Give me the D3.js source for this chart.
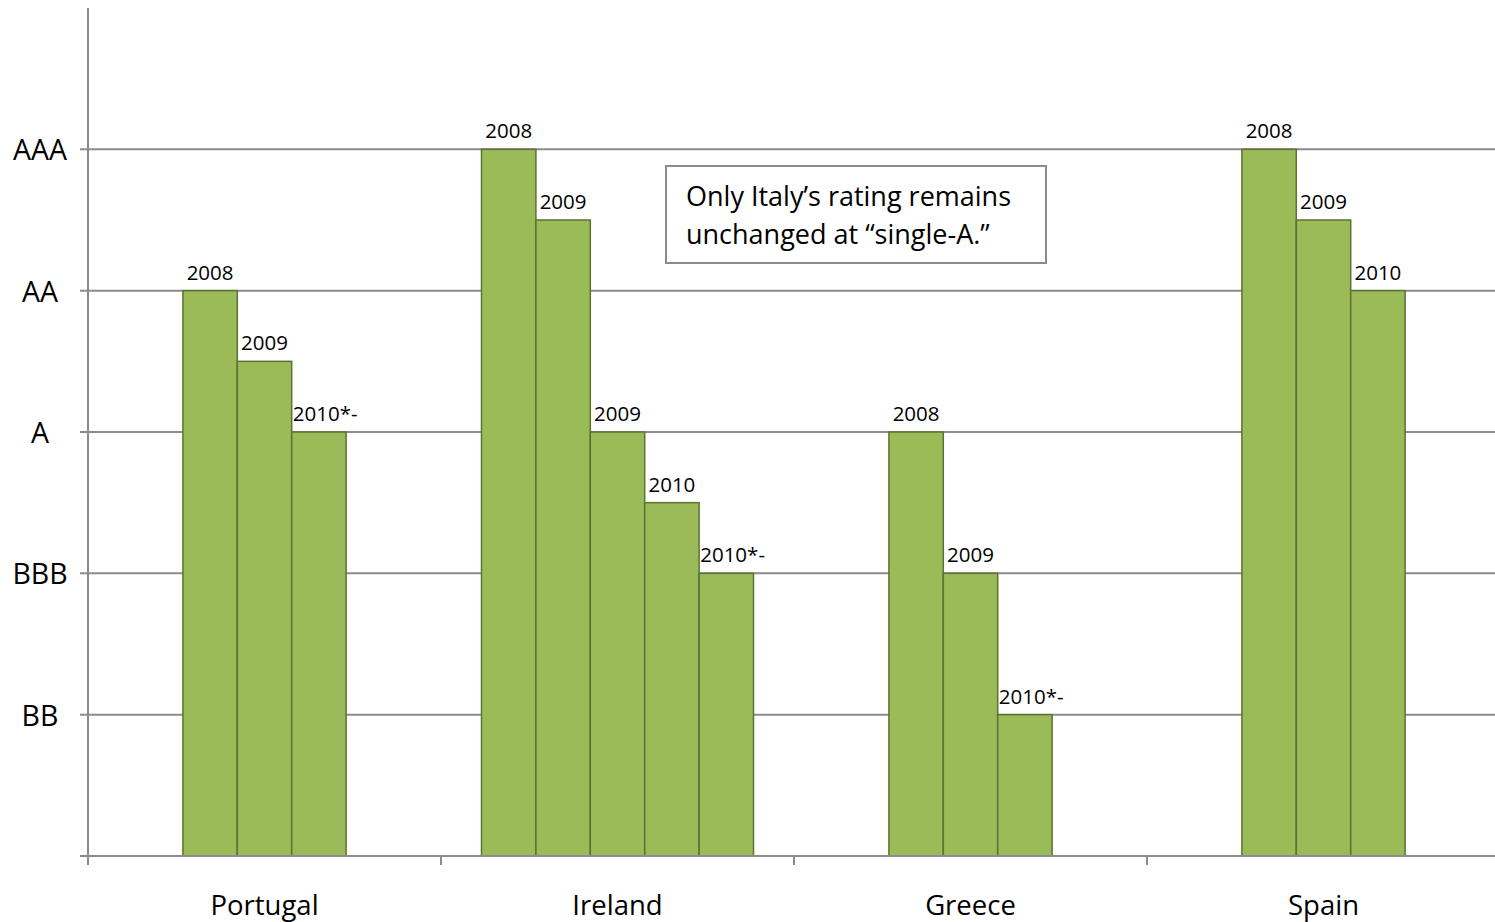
<!DOCTYPE html>
<html>
<head>
<meta charset="utf-8">
<script src="https://cdn.jsdelivr.net/npm/d3@7"></script>
<style>
  body { margin: 0; background: #fff; }
  svg { display: block; font-family: "Open Sans", sans-serif; }
</style>
</head>
<body>
<svg width="1495" height="922"></svg>
<script>
// data
var countries = ["Portugal", "Ireland", "Greece", "Spain"];
var ratings = ["BB", "BBB", "A", "AA", "AAA"]; // rating index 1..5
var portugalYears = ["2008", "2009", "2010*-"];
var portugalValues = [4, 3.5, 3];
var irelandYears = ["2008", "2009", "2009", "2010", "2010*-"];
var irelandValues = [5, 4.5, 3, 2.5, 2];
var greeceYears = ["2008", "2009", "2010*-"];
var greeceValues = [3, 2, 1];
var spainYears = ["2008", "2009", "2010"];
var spainValues = [5, 4.5, 4];
var note = ["Only Italy\u2019s rating remains", "unchanged at \u201csingle-A.\u201d"];

var groups = [
  { name: "Portugal", years: portugalYears, values: portugalValues },
  { name: "Ireland", years: irelandYears, values: irelandValues },
  { name: "Greece", years: greeceYears, values: greeceValues },
  { name: "Spain", years: spainYears, values: spainValues }
];

var svg = d3.select("svg");
var plotL = 88, plotR = 1495, plotT = 8, plotB = 856;
var barW = 54.4;
var gridColor = "#8c8c8c";

// the last category runs a little past the right edge of the picture
var x = d3.scaleBand().domain(countries).range([plotL, 1500]).padding(0);
var y = d3.scaleLinear().domain([0, 6]).range([plotB, plotT]);

// horizontal gridlines + y labels
var yTicks = d3.range(1, ratings.length + 1);
svg.append("g").selectAll("line")
  .data(yTicks).enter().append("line")
  .attr("x1", plotL - 8).attr("x2", plotR)
  .attr("y1", d => y(d)).attr("y2", d => y(d))
  .attr("stroke", gridColor).attr("stroke-width", 2);

svg.append("g").selectAll("text")
  .data(yTicks).enter().append("text")
  .attr("x", 40).attr("y", d => y(d) + 11)
  .attr("text-anchor", "middle")
  .attr("font-size", 28.5)
  .attr("fill", "#000")
  .text(d => ratings[d - 1]);

// bars
var bars = [];
groups.forEach(function (g) {
  var n = g.values.length;
  var cx = x(g.name) + x.bandwidth() / 2;
  g.values.forEach(function (v, i) {
    bars.push({ x: cx + (i - n / 2) * barW, v: v, label: g.years[i] });
  });
});

svg.append("g").selectAll("rect")
  .data(bars).enter().append("rect")
  .attr("x", d => d.x)
  .attr("y", d => y(d.v))
  .attr("width", barW)
  .attr("height", d => plotB - y(d.v))
  .attr("fill", "#9bbb59")
  .attr("stroke", "#5b7330")
  .attr("stroke-width", 1.5);

// bar labels: centred on the bar, a trailing "-" hangs to the right
var lbl = svg.append("g").selectAll("text")
  .data(bars).enter().append("text")
  .attr("y", d => y(d.v) - 11)
  .attr("font-size", 20.5)
  .attr("fill", "#000")
  .text(d => d.label.replace("-", ""));
lbl.each(function (d) {
  var w = this.getComputedTextLength();
  var dash = d.label.indexOf("-") >= 0;
  d3.select(this).attr("x", d.x + barW / 2 - w / 2 + (dash ? 3 : 0));
  if (dash) d3.select(this).append("tspan").text("-");
});

// axes
svg.append("line")
  .attr("x1", plotL).attr("x2", plotL).attr("y1", plotT).attr("y2", plotB + 9)
  .attr("stroke", gridColor).attr("stroke-width", 2);
svg.append("line")
  .attr("x1", plotL - 8).attr("x2", plotR).attr("y1", plotB).attr("y2", plotB)
  .attr("stroke", gridColor).attr("stroke-width", 2);
svg.append("g").selectAll("line")
  .data(countries.slice(1)).enter().append("line")
  .attr("x1", d => x(d)).attr("x2", d => x(d))
  .attr("y1", plotB).attr("y2", plotB + 9)
  .attr("stroke", gridColor).attr("stroke-width", 2);

svg.append("g").selectAll("text")
  .data(countries).enter().append("text")
  .attr("x", d => x(d) + x.bandwidth() / 2)
  .attr("y", 915)
  .attr("text-anchor", "middle")
  .attr("font-size", 27.5)
  .attr("fill", "#000")
  .text(d => d);

// note box
var box = svg.append("g");
box.append("rect")
  .attr("x", 666).attr("y", 166).attr("width", 380).attr("height", 97)
  .attr("fill", "#fff").attr("stroke", gridColor).attr("stroke-width", 2);
box.selectAll("text")
  .data(note).enter().append("text")
  .attr("x", 686).attr("y", (d, i) => 206 + i * 38)
  .attr("font-size", 27)
  .attr("fill", "#000")
  .text(d => d);
</script>
</body>
</html>
